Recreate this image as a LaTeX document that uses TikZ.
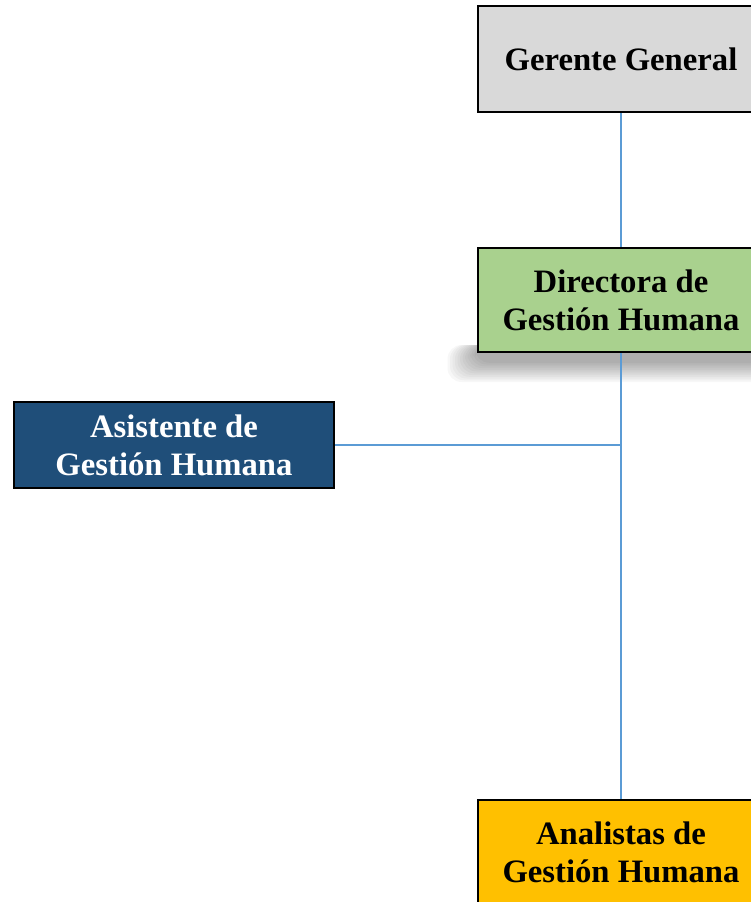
\documentclass[tikz,border=0pt]{standalone}
\usepackage{fontspec}
\setmainfont{Liberation Serif}
\definecolor{linkblue}{RGB}{91,155,213}
\definecolor{gerentegray}{RGB}{217,217,217}
\definecolor{directgreen}{RGB}{169,209,142}
\definecolor{asisblue}{RGB}{31,78,121}
\definecolor{analgold}{RGB}{255,192,0}
\tikzset{
    box/.style = {draw, line width=1.5pt, minimum width=5.72cm, minimum height=2.08cm, align=center, inner sep=0pt, font=\fontsize{18.6}{21.5}\selectfont\bfseries},
    link/.style = {draw=linkblue, line width=1.4pt}
}

\begin{document}
\begin{tikzpicture}
        \useasboundingbox (0, 0) rectangle (15, -18.04);

        % soft shadow under the director box
        \foreach \i in {0,...,11}
            \fill[black, opacity=0.03, rounded corners=8pt] (8.95+0.05*\i, -6.9) rectangle (15.4, -7.64+0.035*\i);

        \node[box, fill=gerentegray, minimum height=2.12cm] (gerente) at (12.42, -1.18) {Gerente General};
        \node[box, fill=directgreen] (directora) at (12.42, -6.0) {Directora de\\Gestión Humana};
        \node[box, fill=asisblue, text=white, minimum width=6.4cm, minimum height=1.72cm] (asistente) at (3.48, -8.9) {Asistente de\\Gestión Humana};
        \node[box, fill=analgold] (analistas) at (12.42, -17.04) {Analistas de\\Gestión Humana};

        \coordinate (junction) at (asistente.east -| directora.south);

        \draw[link] (gerente) -- (directora);
        \draw[link] (directora) -- (analistas);
        \draw[link] (asistente) -- (junction);
    \end{tikzpicture}
\end{document}
